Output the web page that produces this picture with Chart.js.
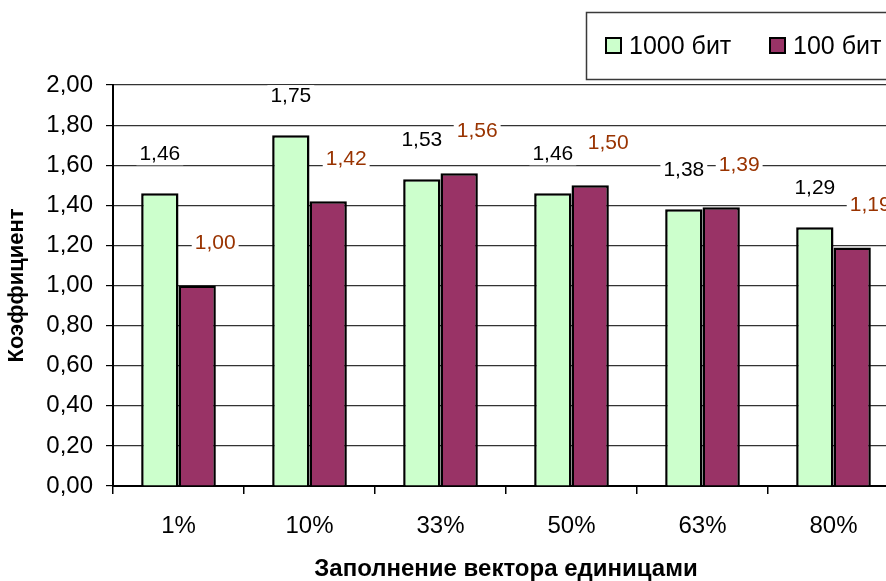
<!DOCTYPE html>
<html>
<head>
<meta charset="utf-8">
<script src="https://cdn.jsdelivr.net/npm/chart.js@4/dist/chart.umd.min.js"></script>
<style>
  html, body { margin: 0; padding: 0; background: #fff; overflow: hidden; }
  #wrap { position: relative; width: 905px; height: 581px; }
</style>
</head>
<body>
<div id="wrap"><canvas id="c"></canvas></div>
<script>
// Fill share of the vector with ones
const categories = ['1%', '10%', '33%', '50%', '63%', '80%'];
// Coefficient for 1000-bit vectors
const values1000 = [1.46, 1.75, 1.53, 1.46, 1.38, 1.29];
// Coefficient for 100-bit vectors
const values100 = [1.00, 1.42, 1.56, 1.50, 1.39, 1.19];
const seriesNames = ['1000 бит', '100 бит'];
const yTicks = [0, 0.2, 0.4, 0.6, 0.8, 1.0, 1.2, 1.4, 1.6, 1.8, 2.0];

const FONT = '"Liberation Sans", Arial, sans-serif';
const fmt = v => v.toFixed(2).replace('.', ',');

// Value labels on a white box above each bar
const valueLabels = {
  id: 'valueLabels',
  afterDatasetsDraw(chart) {
    const ctx = chart.ctx;
    ctx.save();
    ctx.font = '21px ' + FONT;
    ctx.textAlign = 'center';
    ctx.textBaseline = 'middle';
    chart.data.datasets.forEach((ds, di) => {
      const meta = chart.getDatasetMeta(di);
      meta.data.forEach((bar, i) => {
        const txt = fmt(ds.data[i]);
        const x = bar.x + (di === 1 ? 18 : 0);
        const y = bar.y - (di === 1 ? 42 : 39);
        const w = ctx.measureText(txt).width + 6;
        ctx.fillStyle = '#ffffff';
        ctx.fillRect(x - w / 2, y - 11, w, 22);
        ctx.fillStyle = ds.labelColor;
        ctx.fillText(txt, x, y);
      });
    });
    ctx.restore();
  }
};

// Framed legend in the upper right corner
const boxedLegend = {
  id: 'boxedLegend',
  afterDraw(chart) {
    const ctx = chart.ctx;
    ctx.save();
    ctx.fillStyle = '#ffffff';
    ctx.fillRect(586, 12, 330, 67);
    ctx.strokeStyle = '#3a3a3a';
    ctx.lineWidth = 1.5;
    ctx.strokeRect(586.5, 12.5, 330, 67);
    ctx.font = '25px ' + FONT;
    ctx.textBaseline = 'middle';
    ctx.textAlign = 'left';
    const starts = [606, 770];
    chart.data.datasets.forEach((ds, di) => {
      const x = starts[di];
      ctx.fillStyle = ds.backgroundColor;
      ctx.fillRect(x, 38, 15, 15);
      ctx.strokeStyle = '#000';
      ctx.lineWidth = 2;
      ctx.strokeRect(x, 38, 15, 15);
      ctx.fillStyle = '#000';
      ctx.fillText(ds.label, x + 23, 47);
    });
    ctx.restore();
  }
};

new Chart(document.getElementById('c'), {
  type: 'bar',
  data: {
    labels: categories,
    datasets: [
      {
        label: seriesNames[0],
        data: values1000,
        backgroundColor: '#CCFFCC',
        borderColor: '#000000',
        borderWidth: 2.5,
        labelColor: '#000000',
        categoryPercentage: 0.57,
        barPercentage: 1.0
      },
      {
        label: seriesNames[1],
        data: values100,
        backgroundColor: '#993366',
        borderColor: '#000000',
        borderWidth: 2.5,
        labelColor: '#993300',
        categoryPercentage: 0.57,
        barPercentage: 1.0
      }
    ]
  },
  options: {
    responsive: true,
    maintainAspectRatio: false,
    animation: false,
    layout: { padding: { top: 85, right: 6, left: 0, bottom: 0 } },
    plugins: {
      legend: { display: false },
      tooltip: { enabled: false }
    },
    scales: {
      x: {
        offset: true,
        grid: {
          offset: true,
          drawOnChartArea: false,
          drawTicks: true,
          tickLength: 8,
          tickColor: '#000',
          lineWidth: 1.5
        },
        border: { color: '#000', width: 2 },
        ticks: {
          color: '#000',
          font: { family: FONT, size: 24 },
          padding: 18,
          maxRotation: 0
        },
        title: {
          display: true,
          text: 'Заполнение вектора единицами',
          color: '#000',
          font: { family: FONT, size: 24, weight: 'bold' },
          padding: { top: 0, bottom: -3 }
        },
        afterFit(scale) { scale.height = 95; }
      },
      y: {
        min: 0,
        max: 2,
        afterBuildTicks(scale) { scale.ticks = yTicks.map(v => ({ value: v })); },
        grid: {
          color: '#333',
          lineWidth: 1.2,
          drawTicks: true,
          tickLength: 7,
          tickColor: '#000'
        },
        border: { color: '#000', width: 2 },
        ticks: {
          color: '#000',
          font: { family: FONT, size: 24 },
          padding: 13,
          callback: v => fmt(v)
        },
        title: {
          display: true,
          text: 'Коэффициент',
          color: '#000',
          font: { family: FONT, size: 22, weight: 'bold' },
          padding: { top: 4, bottom: 0 }
        },
        afterFit(scale) { scale.width = 113; }
      }
    }
  },
  plugins: [valueLabels, boxedLegend]
});
</script>
</body>
</html>
